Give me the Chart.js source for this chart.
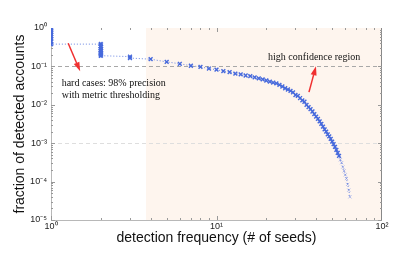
<!DOCTYPE html>
<html>
<head>
<meta charset="utf-8">
<script src="https://cdn.jsdelivr.net/npm/chart.js@4/dist/chart.umd.min.js"></script>
<style>
  html, body { margin: 0; padding: 0; background: #fff; }
</style>
</head>
<body>
<canvas id="chart" width="415" height="264"></canvas>
<script>
// detection frequency (# of seeds) of each point
const freq = [
  1, 1, 1, 1, 1, 1, 1, 1,
  2, 2, 2, 2, 2, 2, 2,
  3, 3, 4, 5, 6, 7, 8, 9, 10,
  11, 12, 13, 14, 15, 16, 17, 18, 19, 20,
  21, 22, 23, 24, 25, 26, 27, 28, 29, 30,
  31, 32, 33, 34, 35, 36, 37, 38, 39, 40,
  41, 42, 43, 44, 45, 46, 47, 48, 49, 50,
  51, 52, 53, 54, 55, 56, 57, 58, 59, 60,
  61, 62, 63, 64
];
// fraction of detected accounts for each point
const fraction = [
  1.0, 0.88, 0.78, 0.68, 0.6, 0.52, 0.45, 0.38,
  0.38, 0.33, 0.29, 0.26, 0.23, 0.21, 0.19,
  0.18, 0.165, 0.154, 0.131, 0.117, 0.104, 0.097, 0.088, 0.082,
  0.075, 0.071, 0.065, 0.062, 0.058, 0.056, 0.052, 0.049, 0.046, 0.043,
  0.040, 0.038, 0.036, 0.033, 0.030, 0.027, 0.025, 0.023, 0.021, 0.018,
  0.017, 0.015, 0.013, 0.012, 0.010, 0.0087, 0.0077, 0.0067, 0.0057, 0.0049,
  0.0043, 0.0037, 0.0032, 0.0027, 0.0023, 0.0020, 0.0017, 0.0015, 0.0013, 0.0011,
  0.00095, 0.00080, 0.00067, 0.00056, 0.00047, 0.00037, 0.00031, 0.00024, 0.00019, 0.00015,
  0.00012, 0.000085, 0.00006, 0.00004
];

const xTicks = [1, 10, 100];
const yTicks = [1, 1e-1, 1e-2, 1e-3, 1e-4, 1e-5];
const thresholds = [0.1, 0.001];
const highConfidenceFrom = 3.75;

const notes = [
  { lines: ["hard cases: 98% precision", "with metric thresholding"], x: 1.16, y: 0.036 },
  { lines: ["high confidence region"], x: 20.5, y: 0.175 }
];
const arrows = [
  { from: [1.27, 0.40], to: [1.50, 0.075] },
  { from: [36.2, 0.0214], to: [39.9, 0.101] }
];

const SUP = { "0": "\u2070", "1": "\u00b9", "2": "\u00b2", "3": "\u00b3", "4": "\u2074", "5": "\u2075", "-": "\u207b" };
function powLabel(v) {
  const e = Math.round(Math.log10(v));
  return "10" + String(e).split("").map(c => SUP[c]).join("");
}

const decor = {
  id: "decor",
  beforeDatasetsDraw(chart) {
    const { ctx, chartArea: a, scales: { x, y } } = chart;
    ctx.save();
    // high confidence region
    ctx.fillStyle = "#fef5ee";
    const x0 = x.getPixelForValue(highConfidenceFrom);
    ctx.fillRect(x0, a.top, a.right - x0, a.bottom - a.top);

    // dashed threshold lines
    ctx.setLineDash([4, 3]);
    ctx.lineWidth = 1;
    thresholds.forEach((t, i) => {
      const py = Math.round(y.getPixelForValue(t)) + 0.5;
      ctx.strokeStyle = i === 0 ? "#a8a8a8" : "#dedede";
      ctx.beginPath();
      ctx.moveTo(a.left, py);
      ctx.lineTo(a.right, py);
      ctx.stroke();
    });
    ctx.setLineDash([]);

    // axes box
    ctx.strokeStyle = "#b8b8b8";
    ctx.beginPath();
    ctx.moveTo(a.left + 0.5, a.top);
    ctx.lineTo(a.left + 0.5, a.bottom + 0.5);
    ctx.lineTo(a.right, a.bottom + 0.5);
    ctx.stroke();
    ctx.strokeStyle = "#888";
    ctx.beginPath();
    ctx.moveTo(a.right - 0.5, a.top);
    ctx.lineTo(a.right - 0.5, a.bottom);
    ctx.stroke();

    // inward ticks, major and minor
    ctx.strokeStyle = "#999";
    for (let d = 0; d < 2; d++) {
      for (let m = 1; m <= 9; m++) {
        const v = m * Math.pow(10, d);
        const px = Math.round(x.getPixelForValue(v)) + 0.5;
        const len = m === 1 ? 4 : 2;
        ctx.beginPath();
        ctx.moveTo(px, a.bottom); ctx.lineTo(px, a.bottom - len);
        ctx.moveTo(px, a.top); ctx.lineTo(px, a.top + len);
        ctx.stroke();
      }
    }
    for (let d = -5; d < 0; d++) {
      for (let m = 1; m <= 9; m++) {
        const v = m * Math.pow(10, d);
        const py = Math.round(y.getPixelForValue(v)) + 0.5;
        const len = m === 1 ? 4 : 2;
        ctx.beginPath();
        ctx.moveTo(a.left, py); ctx.lineTo(a.left + len, py);
        ctx.moveTo(a.right, py); ctx.lineTo(a.right - len, py);
        ctx.stroke();
      }
    }
    ctx.restore();
  },
  afterDatasetsDraw(chart) {
    const { ctx, scales: { x, y } } = chart;
    ctx.save();
    ctx.fillStyle = "#111";
    ctx.font = "10px 'Liberation Serif', 'Times New Roman', serif";
    ctx.textBaseline = "middle";
    notes.forEach(n => {
      const px = x.getPixelForValue(n.x), py = y.getPixelForValue(n.y);
      n.lines.forEach((l, i) => ctx.fillText(l, px, py + i * 12));
    });

    ctx.strokeStyle = "#f03030";
    ctx.fillStyle = "#f03030";
    ctx.lineWidth = 1.5;
    arrows.forEach(ar => {
      const x1 = x.getPixelForValue(ar.from[0]), y1 = y.getPixelForValue(ar.from[1]);
      const x2 = x.getPixelForValue(ar.to[0]), y2 = y.getPixelForValue(ar.to[1]);
      const ang = Math.atan2(y2 - y1, x2 - x1);
      const hl = 9, hw = 3;
      const bx = x2 - hl * Math.cos(ang), by = y2 - hl * Math.sin(ang);
      ctx.beginPath();
      ctx.moveTo(x1, y1);
      ctx.lineTo(bx, by);
      ctx.stroke();
      ctx.beginPath();
      ctx.moveTo(x2, y2);
      ctx.lineTo(bx + hw * Math.sin(ang), by - hw * Math.cos(ang));
      ctx.lineTo(bx - hw * Math.sin(ang), by + hw * Math.cos(ang));
      ctx.closePath();
      ctx.fill();
    });
    ctx.restore();
  }
};

const tickFont = { family: "'Liberation Sans', Arial, sans-serif", size: 9 };
const titleFont = { family: "'Liberation Sans', Arial, sans-serif", size: 14 };

new Chart(document.getElementById("chart"), {
  type: "line",
  data: {
    datasets: [{
      data: freq.map((f, i) => ({ x: f, y: fraction[i] })),
      borderColor: "rgba(70,105,220,0.8)",
      borderWidth: 1,
      borderDash: [1, 2],
      tension: 0,
      fill: false,
      pointStyle: "crossRot",
      pointRadius: c => (c.raw && c.raw.x > 55 ? 2.2 : 2.7),
      pointBorderWidth: c => (c.raw && c.raw.x > 55 ? 0.8 : (c.raw && c.raw.x <= 2 ? 2 : 1.4)),
      pointBorderColor: c => (c.raw && c.raw.x > 55 ? "rgba(90,120,225,0.6)" : "rgb(70,105,220)"),
      clip: 0
    }]
  },
  options: {
    responsive: false,
    animation: false,
    layout: { padding: { left: 0, right: 33, top: 28, bottom: 0 } },
    plugins: { legend: { display: false }, tooltip: { enabled: false } },
    scales: {
      x: {
        type: "logarithmic",
        min: 1, max: 100,
        afterBuildTicks: s => { s.ticks = xTicks.map(v => ({ value: v })); },
        afterFit: s => { s.height = 44; },
        grid: { display: false, drawTicks: false },
        border: { display: false },
        ticks: { font: tickFont, color: "#222", padding: 1, autoSkip: false, maxRotation: 0, callback: v => powLabel(v) },
        title: { display: true, text: "detection frequency (# of seeds)", font: titleFont, color: "#111", padding: { top: 0, bottom: 17 } }
      },
      y: {
        type: "logarithmic",
        min: 1e-5, max: 1,
        afterBuildTicks: s => { s.ticks = yTicks.map(v => ({ value: v })); },
        afterFit: s => { s.width = 51; },
        grid: { display: false, drawTicks: false },
        border: { display: false },
        ticks: { font: tickFont, color: "#222", padding: 4, autoSkip: false, callback: v => powLabel(v) },
        title: { display: true, text: "fraction of detected accounts", font: titleFont, color: "#111", padding: { top: 12, bottom: 0 } }
      }
    }
  },
  plugins: [decor]
});
</script>
</body>
</html>
